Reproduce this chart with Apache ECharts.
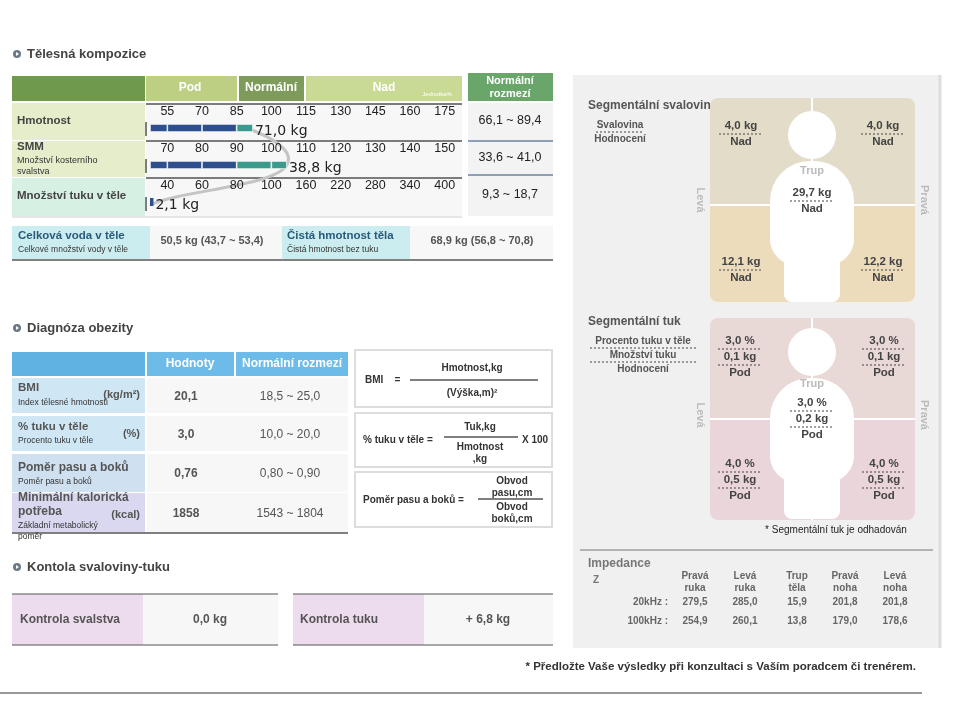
<!DOCTYPE html>
<html><head><meta charset="utf-8">
<script src="https://cdn.jsdelivr.net/npm/echarts@6/dist/echarts.min.js"></script>
<style>html,body{margin:0;padding:0;background:#fff}#c{width:965px;height:702px}</style>
</head><body><div id="c"></div>
<script>
// ---- data ----
const weightTicks = ['55','70','85','100','115','130','145','160','175'];
const smmTicks = ['70','80','90','100','110','120','130','140','150'];
const fatTicks = ['40','60','80','100','160','220','280','340','400'];
const barRows = ['Hmotnost','SMM','Množství tuku v těle'];
const barPositions = [2.97, 3.95, 0.1];      // bar end on the tick scale
const barLabels = ['71,0 kg','38,8 kg','2,1 kg'];
const normalStart = [2.5, 2.5, 99];
const normalRanges = ['66,1 ~ 89,4','33,6 ~ 41,0','9,3 ~ 18,7'];
const obesityRows = ['BMI','% tuku v těle','Poměr pasu a boků','Minimální kalorická potřeba'];
const obesityValues = ['20,1','3,0','0,76','1858'];
const obesityNormal = ['18,5 ~ 25,0','10,0 ~ 20,0','0,80 ~ 0,90','1543 ~ 1804'];
const segMuscle = {la:'4,0 kg', ra:'4,0 kg', tr:'29,7 kg', ll:'12,1 kg', rl:'12,2 kg'};
const segMuscleEval = ['Nad','Nad','Nad','Nad','Nad'];
const segFatPct = {la:'3,0 %', ra:'3,0 %', tr:'3,0 %', ll:'4,0 %', rl:'4,0 %'};
const segFatKg = {la:'0,1 kg', ra:'0,1 kg', tr:'0,2 kg', ll:'0,5 kg', rl:'0,5 kg'};
const impCols = [['Pravá','ruka'],['Levá','ruka'],['Trup','těla'],['Pravá','noha'],['Levá','noha']];
const imp20 = ['279,5','285,0','15,9','201,8','201,8'];
const imp100 = ['254,9','260,1','13,8','179,0','178,6'];

// ---- helpers ----
const F = 'Liberation Sans, Arial, sans-serif';
const G = [];
let zc = 1;
function R(x,y,w,h,fill,extra){G.push(Object.assign({type:'rect',z:zc++,shape:{x,y,width:w,height:h,r:(extra&&extra.r)||0},style:{fill}},extra&&extra.o||{}));}
function T(x,y,text,o){o=o||{};G.push({type:'text',z:zc++,x,y,rotation:o.rot||0,style:{text,fill:o.c||'#333',font:(o.b===false?'':'bold ')+(o.s||12)+'px '+F,align:o.a||'left',verticalAlign:'middle'}});}
function L(x1,y1,x2,y2,c,w,dash){G.push({type:'line',z:zc++,shape:{x1,y1,x2,y2},style:{stroke:c||'#000',lineWidth:w||1,lineDash:dash||null}});}
function bullet(x,y){G.push({type:'circle',z:zc++,shape:{cx:x,cy:y,r:4},style:{fill:'#6a7a8a'}});G.push({type:'polygon',z:zc++,shape:{points:[[x-1,y-2],[x+2,y],[x-1,y+2]]},style:{fill:'#fff'}});}

// ---- section 1 ----
bullet(17,54); T(27,54,'Tělesná kompozice',{s:13,c:'#444'});
R(12,76,133,25,'#6f9a4c'); R(146,76,91,25,'#bccf82'); R(239,76,65,25,'#7f9b5c'); R(306,76,156,25,'#c9da94');
T(190,88,'Pod',{c:'#fff',a:'center'}); T(271,88,'Normální',{c:'#fff',a:'center'}); T(384,88,'Nad',{c:'#fff',a:'center'});
T(437,94,'Jednotka%',{c:'#fff',a:'center',s:6,b:false});
R(468,73,85,28,'#6aa56a'); T(510,81,'Normální',{c:'#fff',a:'center',s:11}); T(510,94,'rozmezí',{c:'#fff',a:'center',s:11});
R(12,103,133,37,'#e5edca'); R(12,141,133,36,'#e5edca'); R(12,178,133,38,'#d6f0e3');
R(146,103,316,113,'#f7f7f7');
R(468,103,85,113,'#f3f3f3');
L(146,104,462,104,'#000'); L(146,141,462,141,'#000'); L(146,178,462,178,'#000');
L(146,122,146,136,'#000'); L(146,159,146,173,'#000'); L(146,197,146,211,'#000');
L(12,217,462,217,'#ccc'); L(468,141,553,141,'#2a4a7a'); L(468,175,553,175,'#2a4a7a');
T(17,121,'Hmotnost',{s:11.5,c:'#444'}); T(17,147,'SMM',{s:11.5,c:'#444'}); T(17,161,'Množství kosterního',{s:9,b:false}); T(17,172,'svalstva',{s:9,b:false});
T(17,196,'Množství tuku v těle',{s:11.5,c:'#444'});
T(510,121,normalRanges[0],{a:'center',s:12.5,b:false,c:'#222'}); T(510,158,normalRanges[1],{a:'center',s:12.5,b:false,c:'#222'}); T(510,195,normalRanges[2],{a:'center',s:12.5,b:false,c:'#222'});
G.push({type:'bezierCurve',z:1500,shape:{x1:252,y1:130,x2:288,y2:162,cpx1:272,cpy1:138,cpx2:292,cpy2:150},style:{stroke:'#c4c4c4',lineWidth:3,fill:null}});
G.push({type:'bezierCurve',z:1500,shape:{x1:288,y1:162,x2:150,y2:205,cpx1:284,cpy1:186,cpx2:180,cpy2:190},style:{stroke:'#c4c4c4',lineWidth:3,fill:null}});
// water/lean
R(12,226,138,33,'#ccedf0'); R(282,226,128,33,'#ccedf0'); R(150,226,132,33,'#f7f7f7'); R(410,226,143,33,'#f7f7f7');
T(18,236,'Celková voda v těle',{s:11.5,c:'#2a5a7a'}); T(18,250,'Celkové množství vody v těle',{s:8.5,b:false});
T(287,236,'Čistá hmotnost těla',{s:11.5,c:'#2a5a7a'}); T(287,250,'Čistá hmotnost bez tuku',{s:8.5,b:false});
T(212,241,'50,5 kg (43,7 ~ 53,4)',{a:'center',s:11,c:'#555'}); T(482,241,'68,9 kg (56,8 ~ 70,8)',{a:'center',s:11,c:'#555'});
L(12,260,553,260,'#000');

// ---- section 2 ----
bullet(17,328); T(27,328,'Diagnóza obezity',{s:13,c:'#444'});
R(12,352,133,24,'#5fb2e2'); R(147,352,87,24,'#6dbbe8'); R(236,352,112,24,'#6dbbe8');
T(190,364,'Hodnoty',{c:'#fff',a:'center'}); T(292,364,'Normální rozmezí',{c:'#fff',a:'center'});
const rowY=[378,416,454,493], rowH=[35,35,38,39], rowC=['#cfe7f4','#cfe7f4','#cfe0f0','#d9d8f0'];
rowY.forEach((y,i)=>{R(12,y,133,rowH[i],rowC[i]); R(147,y,201,rowH[i],'#f7f7f7'); T(186,y+rowH[i]/2+1,obesityValues[i],{a:'center',c:'#555'}); T(290,y+rowH[i]/2+1,obesityNormal[i],{a:'center',c:'#555',b:false});});
T(18,388,obesityRows[0],{s:11.5,c:'#555'}); T(140,395,'(kg/m²)',{s:11,c:'#555',a:'right'}); T(18,403,'Index tělesné hmotnosti',{s:8.5,b:false});
T(18,427,obesityRows[1],{s:11.5,c:'#555'}); T(140,434,'(%)',{s:11,c:'#555',a:'right'}); T(18,441,'Procento tuku v těle',{s:8.5,b:false});
T(18,468,obesityRows[2],{s:12,c:'#555'}); T(18,482,'Poměr pasu a boků',{s:8.5,b:false});
T(18,498,'Minimální kalorická',{s:12,c:'#555'}); T(18,512,'potřeba',{s:12,c:'#555'}); T(140,515,'(kcal)',{s:11,c:'#555',a:'right'});
T(18,526,'Základní metabolický',{s:8.5,b:false}); T(18,537,'poměr',{s:8.5,b:false});
L(12,533,348,533,'#000');
[[355,350,197,57],[355,413,197,54],[355,472,197,55]].forEach(b=>R(b[0],b[1],b[2],b[3],'#fff',{o:{style:{fill:'#fff',stroke:'#ddd',lineWidth:2}}}));
T(365,380,'BMI    =',{s:10}); L(410,380,538,380,'#000'); T(472,368,'Hmotnost,kg',{s:10,a:'center'}); T(472,393,'(Výška,m)²',{s:10,a:'center'});
T(363,440,'% tuku v těle =',{s:10}); L(444,437,518,437,'#000'); T(480,427,'Tuk,kg',{s:10,a:'center'}); T(480,447,'Hmotnost',{s:10,a:'center'}); T(480,459,',kg',{s:10,a:'center'});
T(522,440,'X 100',{s:10});
T(363,500,'Poměr pasu a boků =',{s:10}); L(478,499,543,499,'#000'); T(512,481,'Obvod',{s:10,a:'center'}); T(512,493,'pasu,cm',{s:10,a:'center'}); T(512,507,'Obvod',{s:10,a:'center'}); T(512,519,'boků,cm',{s:10,a:'center'});

// ---- section 3 ----
bullet(17,567); T(27,567,'Kontola svaloviny-tuku',{s:13,c:'#444'});
R(12,594,131,51,'#eddcee'); R(143,594,135,51,'#f7f7f7'); R(293,594,131,51,'#eddcee'); R(424,594,129,51,'#f7f7f7');
L(12,594,278,594,'#555'); L(12,645,278,645,'#555'); L(293,594,553,594,'#555'); L(293,645,553,645,'#555');
T(20,620,'Kontrola svalstva',{c:'#555'}); T(210,620,'0,0 kg',{a:'center',c:'#555'});
T(300,620,'Kontrola tuku',{c:'#555'}); T(488,620,'+ 6,8 kg',{a:'center',c:'#555'});
T(916,667,'* Předložte Vaše výsledky při konzultaci s Vaším poradcem či trenérem.',{a:'right',s:11.5});
L(0,693,922,693,'#333');

// ---- right panel ----
R(573,75,367,573,'#f0f0f0'); L(940,75,940,648,'#ddd',3);
function body(cy0){ // head center
  G.push({type:'circle',z:zc++,shape:{cx:812,cy:cy0,r:24},style:{fill:'#fff'}});
  R(770,cy0+26,84,104,'#fff',{r:[40,40,26,26]});
  R(784,cy0+95,56,72,'#fff',{r:[0,0,8,8]});
}
T(588,106,'Segmentální svalovina',{s:12,c:'#555'});
R(710,98,205,107,'#e2dcc8',{r:[8,8,0,0]}); R(710,205,205,97,'#ecdcbc',{r:[0,0,8,8]});
body(135); L(812,98,812,302,'#fff',2); L(710,205,915,205,'#fff',2);
T(620,125,'Svalovina',{s:10,a:'center',c:'#555'}); L(596,132,644,132,'#444',1,[2,2]); T(620,139,'Hodnocení',{s:10,a:'center',c:'#555'});
function seg(x,y,vals){vals.forEach((v,i)=>{T(x,y+i*16,v,{a:'center',s:11.5,c:'#444'}); if(i<vals.length-1) L(x-22,y+i*16+8,x+22,y+i*16+8,'#444',1,[2,2]);});}
seg(741,126,[segMuscle.la,segMuscleEval[0]]); seg(883,126,[segMuscle.ra,segMuscleEval[1]]);
T(812,171,'Trup',{s:11,a:'center',c:'#bbb'}); seg(812,193,[segMuscle.tr,segMuscleEval[2]]);
seg(741,262,[segMuscle.ll,segMuscleEval[3]]); seg(883,262,[segMuscle.rl,segMuscleEval[4]]);
T(700,200,'Levá',{s:11,a:'center',c:'#bbb',rot:-Math.PI/2}); T(924,200,'Pravá',{s:11,a:'center',c:'#bbb',rot:-Math.PI/2});

T(588,322,'Segmentální tuk',{s:12,c:'#555'});
R(710,318,205,101,'#e9d9d6',{r:[8,8,0,0]}); R(710,419,205,101,'#ead5da',{r:[0,0,8,8]});
body(352); L(812,318,812,520,'#fff',2); L(710,419,915,419,'#fff',2);
T(643,341,'Procento tuku v těle',{s:10,a:'center',c:'#555'}); L(590,348,697,348,'#444',1,[2,2]);
T(643,355,'Množství tuku',{s:10,a:'center',c:'#555'}); L(590,362,697,362,'#444',1,[2,2]); T(643,369,'Hodnocení',{s:10,a:'center',c:'#555'});
seg(740,341,[segFatPct.la,segFatKg.la,'Pod']); seg(884,341,[segFatPct.ra,segFatKg.ra,'Pod']);
T(812,384,'Trup',{s:11,a:'center',c:'#bbb'}); seg(812,403,[segFatPct.tr,segFatKg.tr,'Pod']);
seg(740,464,[segFatPct.ll,segFatKg.ll,'Pod']); seg(884,464,[segFatPct.rl,segFatKg.rl,'Pod']);
T(700,415,'Levá',{s:11,a:'center',c:'#bbb',rot:-Math.PI/2}); T(924,415,'Pravá',{s:11,a:'center',c:'#bbb',rot:-Math.PI/2});
T(836,530,'* Segmentální tuk je odhadován',{s:10,a:'center',b:false,c:'#222'});
L(580,550,933,550,'#777');
T(588,564,'Impedance',{s:12,c:'#777'}); T(593,580,'Z',{s:10,c:'#777'});
const ix=[695,745,797,845,895];
impCols.forEach((c,i)=>{T(ix[i],576,c[0],{s:10,a:'center',c:'#666'}); T(ix[i],588,c[1],{s:10,a:'center',c:'#666'}); T(ix[i],602,imp20[i],{s:10,a:'center',c:'#666'}); T(ix[i],621,imp100[i],{s:10,a:'center',c:'#666'});});
T(668,602,'20kHz :',{s:10,a:'right',c:'#666'}); T(668,621,'100kHz :',{s:10,a:'right',c:'#666'});

// ---- bars ----
const ticks=[weightTicks,smmTicks,fatTicks], gridTop=[121,158,195];
const breaks=[0,0.5,1.5,2.5,3.5,4.5,5.5,6.5,7.5,8.5,9];
const grids=[],xAxes=[],yAxes=[],series=[];
for(let r=0;r<3;r++){
  grids.push({left:150,width:312,top:gridTop[r],height:14});
  xAxes.push({type:'category',gridIndex:r,position:'top',z:2000,data:ticks[r],axisLine:{show:false},axisTick:{show:false},axisLabel:{margin:3,fontSize:12.5,color:'#222',fontFamily:F}});
  xAxes.push({type:'value',gridIndex:r,min:0,max:9,show:false});
  yAxes.push({type:'category',gridIndex:r,data:[barRows[r]],show:false});
  const end=barPositions[r];
  let lastK=0; for(let k=0;k<breaks.length-1;k++) if(end>breaks[k]) lastK=k;
  for(let k=0;k<breaks.length-1;k++){
    const v=Math.max(0,Math.min(end,breaks[k+1])-breaks[k]);
    series.push({type:'bar',z:2000,xAxisIndex:2*r+1,yAxisIndex:r,stack:'s'+r,barWidth:8,silent:true,animation:false,
      itemStyle:{color:breaks[k]>=normalStart[r]?'#3a9a8c':'#2d4f8e',borderColor:'#fff',borderWidth:v>0.2?0.7:0},
      data:[{value:v,label:{show:k===lastK,position:'right',distance:2,offset:[0,3],formatter:barLabels[r],fontSize:14,color:'#222',fontFamily:'DejaVu Sans'}}]});
  }
}
const chart=echarts.init(document.getElementById('c'));
chart.setOption({animation:false,grid:grids,xAxis:xAxes,yAxis:yAxes,series,graphic:{elements:G}});
</script></body></html>
